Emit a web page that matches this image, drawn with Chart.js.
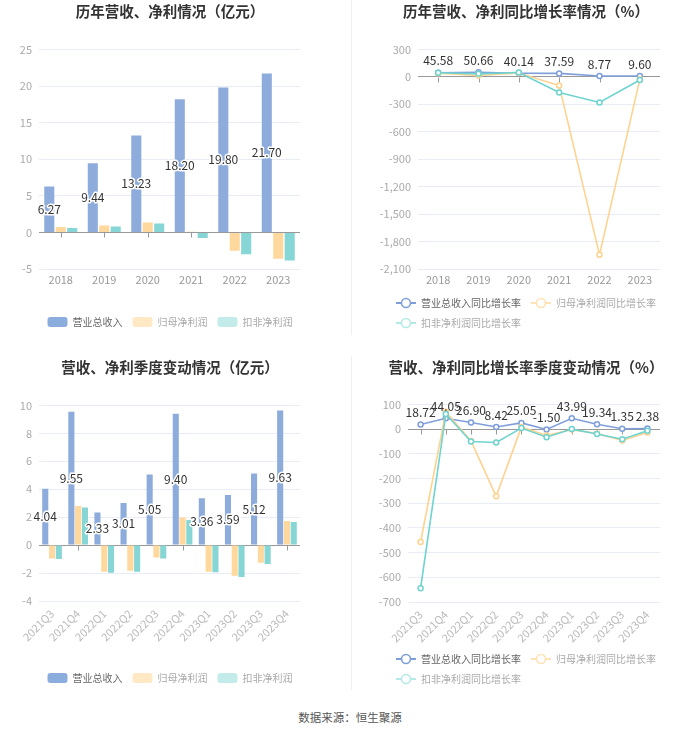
<!DOCTYPE html>
<html>
<head>
<meta charset="utf-8">
<script src="https://cdn.jsdelivr.net/npm/chart.js@4.4.0/dist/chart.umd.min.js"></script>
<style>
  body { margin: 0; background: #fff; }
  #wrap { position: relative; width: 700px; height: 734px; overflow: hidden; }
  .panel { position: absolute; height: 345px; }
  .left { left: 0; width: 350px; }
  .right { left: 352px; width: 348px; }
  .divider { position: absolute; left: 351px; width: 1px; background: #efefef; }
  .src { position: absolute; left: 0; width: 700px; top: 709px; text-align: center;
         font: 11.5px 'Noto Sans CJK SC', sans-serif; color: #555; }
</style>
</head>
<body>
<div id="wrap">
  <div class="panel left" style="top:0"><canvas id="c1"></canvas></div>
  <div class="panel right" style="top:0"><canvas id="c2"></canvas></div>
  <div class="panel left" style="top:356px"><canvas id="c3"></canvas></div>
  <div class="panel right" style="top:356px"><canvas id="c4"></canvas></div>
  <div class="divider" style="top:0;height:335px"></div>
  <div class="divider" style="top:356px;height:334px"></div>
  <div class="src">数据来源：恒生聚源</div>
</div>
<script>
// yearly data (亿元)
const years = ['2018', '2019', '2020', '2021', '2022', '2023'];
const revenue = [6.27, 9.44, 13.23, 18.20, 19.80, 21.70];
const netProfit = [0.75, 0.95, 1.35, 0.1, -2.5, -3.6];
const deductedProfit = [0.6, 0.8, 1.2, -0.75, -3.0, -3.85];

// yearly growth (%)
const revenueYoY = [45.58, 50.66, 40.14, 37.59, 8.77, 9.60];
const netProfitYoY = [40, 15, 42, -95, -1945, -28];
const deductedYoY = [45, 33, 48, -170, -280, -35];

// quarterly data (亿元)
const quarters = ['2021Q3', '2021Q4', '2022Q1', '2022Q2', '2022Q3', '2022Q4', '2023Q1', '2023Q2', '2023Q3', '2023Q4'];
const qRevenue = [4.04, 9.55, 2.33, 3.01, 5.05, 9.40, 3.36, 3.59, 5.12, 9.63];
const qNetProfit = [-0.95, 2.8, -1.9, -1.83, -0.88, 1.98, -1.9, -2.2, -1.26, 1.72];
const qDeducted = [-1.0, 2.7, -1.98, -1.9, -0.95, 1.8, -1.95, -2.28, -1.36, 1.66];

// quarterly growth (%)
const qRevenueYoY = [18.72, 44.05, 26.90, 8.42, 25.05, -1.50, 43.99, 19.34, 1.35, 2.38];
const qNetProfitYoY = [-457, 70, -48, -272, 8, -26, -2, -18, -46, -14];
const qDeductedYoY = [-644, 61, -50, -54, 4, -33, 0, -20, -41, -7];

// y ticks
const yearBarTicks = { min: -5, max: 25, step: 5 };
const yearRateTicks = { min: -2100, max: 300, step: 300 };
const qBarTicks = { min: -4, max: 10, step: 2 };
const qRateTicks = { min: -700, max: 100, step: 100 };

const seriesNames = ['营业总收入', '归母净利润', '扣非净利润'];
const rateNames = ['营业总收入同比增长率', '归母净利润同比增长率', '扣非净利润同比增长率'];

const FONT = "'Noto Sans CJK SC', 'Noto Sans', sans-serif";
Chart.defaults.font.family = FONT;
Chart.defaults.animation = false;
Chart.defaults.color = '#999';

const barColors = ['#8eacdb', '#fed89c', '#86d6d5'];
const swatchColors = ['#8badde', '#ffe8c4', '#c3ebea'];
const lineColors = ['#7f9fdb', '#ffd28f', '#6fd4cf'];
const iconColors = ['#7f9fdb', '#ffe2b5', '#b5e9e6'];
const legendText = ['#666', '#aaa', '#aaa'];

const gridColor = ctx => ctx.tick && ctx.tick.value === 0 ? '#999' : '#e8ecf4';

function lineIcon(color) {
  const c = document.createElement('canvas');
  c.width = 20; c.height = 12;
  const g = c.getContext('2d');
  g.strokeStyle = color;
  g.lineWidth = 2;
  g.beginPath(); g.moveTo(0, 6); g.lineTo(20, 6); g.stroke();
  g.beginPath(); g.arc(10, 6, 4.5, 0, Math.PI * 2);
  g.fillStyle = '#fff'; g.fill();
  g.lineWidth = 1.6; g.stroke();
  return c;
}
const lineIcons = iconColors.map(lineIcon);

// small ticks hanging under the zero line
const zeroTicks = {
  id: 'zeroTicks',
  beforeDatasetsDraw(chart) {
    const x = chart.scales.x, y = chart.scales.y;
    const y0 = Math.round(y.getPixelForValue(0)) + 0.5;
    const ctx = chart.ctx;
    ctx.save();
    ctx.strokeStyle = '#999';
    ctx.lineWidth = 1;
    ctx.beginPath();
    x.ticks.forEach((t, i) => {
      const px = Math.round(x.getPixelForTick(i)) + 0.5;
      ctx.moveTo(px, y0);
      ctx.lineTo(px, y0 + 5);
    });
    ctx.stroke();
    ctx.restore();
  }
};

// value labels for the first series
const valueLabels = {
  id: 'valueLabels',
  afterDatasetsDraw(chart, args, opts) {
    const meta = chart.getDatasetMeta(0);
    const data = chart.data.datasets[0].data;
    const ctx = chart.ctx;
    ctx.save();
    ctx.font = (opts.size || 12) + 'px ' + FONT;
    ctx.textAlign = 'center';
    ctx.textBaseline = 'middle';
    meta.data.forEach((el, i) => {
      const text = data[i].toFixed(2);
      const y = opts.mode === 'bar' ? (el.y + el.base) / 2 : el.y - 12;
      if (opts.mode === 'bar') {
        ctx.lineWidth = 3;
        ctx.lineJoin = 'round';
        ctx.strokeStyle = '#fff';
        ctx.strokeText(text, el.x, y);
      }
      ctx.fillStyle = '#333';
      ctx.fillText(text, el.x, y);
    });
    ctx.restore();
  }
};

// keep wrapped legend rows aligned with the first row
const legendRows = {
  id: 'legendRows',
  beforeDraw(chart) {
    const lg = chart.legend;
    if (lg && lg.lineWidths && lg.lineWidths.length > 1) {
      for (let i = 1; i < lg.lineWidths.length; i++) lg.lineWidths[i] = lg.lineWidths[0];
    }
  }
};

function scalesFor(ticks, yWidth, xHeight, rotated) {
  return {
    x: {
      offset: true,
      grid: { display: false, drawTicks: false },
      border: { display: false },
      ticks: rotated
        ? { color: '#bbb', font: { size: 11 }, padding: 6, minRotation: 45, maxRotation: 45, autoSkip: false }
        : { color: '#999', font: { size: 11 }, padding: 4 },
      afterFit: s => { s.height = xHeight; }
    },
    y: {
      min: ticks.min, max: ticks.max,
      ticks: { stepSize: ticks.step, color: '#aaa', font: { size: 11 }, padding: 7 },
      grid: { color: gridColor, drawTicks: false },
      border: { display: false },
      afterFit: s => { s.width = yWidth; }
    },
    yr: {
      type: 'linear', axis: 'y', position: 'right',
      ticks: { display: false },
      grid: { display: false, drawTicks: false },
      border: { display: false },
      afterFit: s => { s.width = 40; }
    }
  };
}

function titleOpts(text, bottom) {
  return {
    display: true, text: text, color: '#333',
    font: { size: 14.5, weight: 'bold' },
    padding: { top: 3, bottom: bottom }
  };
}

function barChart(id, title, labels, values, ticks, xHeight, rotated, pct) {
  new Chart(document.getElementById(id), {
    type: 'bar',
    data: {
      labels: labels,
      datasets: values.map((v, i) => ({
        label: seriesNames[i],
        data: v,
        backgroundColor: barColors[i],
        categoryPercentage: pct[0],
        barPercentage: pct[1]
      }))
    },
    options: {
      responsive: true,
      maintainAspectRatio: false,
      layout: { padding: { left: 0, right: 10, top: 0, bottom: 8 } },
      scales: scalesFor(ticks, 39, xHeight, rotated),
      plugins: {
        title: titleOpts(title, 29),
        tooltip: { enabled: false },
        legend: {
          position: 'bottom',
          labels: {
            boxWidth: 20, boxHeight: 10, padding: 10,
            font: { size: 10 },
            useBorderRadius: true, borderRadius: 3,
            generateLabels(chart) {
              const items = Chart.defaults.plugins.legend.labels.generateLabels(chart);
              items.forEach(it => {
                it.fillStyle = swatchColors[it.datasetIndex];
                it.strokeStyle = swatchColors[it.datasetIndex];
                it.lineWidth = 0;
                it.fontColor = legendText[it.datasetIndex];
              });
              return items;
            }
          }
        },
        valueLabels: { mode: 'bar', size: 12 }
      }
    },
    plugins: [zeroTicks, valueLabels]
  });
}

function lineChart(id, title, labels, values, ticks, yWidth, xHeight, rotated, titleBottom) {
  const order = [2, 1, 0];
  new Chart(document.getElementById(id), {
    type: 'line',
    data: {
      labels: labels,
      datasets: values.map((v, i) => ({
        label: rateNames[i],
        data: v,
        order: order[i],
        borderColor: lineColors[i],
        backgroundColor: lineColors[i],
        borderWidth: 1.6,
        tension: 0,
        pointRadius: 2.5,
        pointBorderWidth: 1.5,
        pointBackgroundColor: '#fff',
        pointBorderColor: lineColors[i]
      }))
    },
    options: {
      responsive: true,
      maintainAspectRatio: false,
      layout: { padding: { left: 0, right: 0, top: 0, bottom: 7 } },
      scales: scalesFor(ticks, yWidth, xHeight, rotated),
      plugins: {
        title: titleOpts(title, titleBottom),
        tooltip: { enabled: false },
        legend: {
          position: 'bottom',
          labels: {
            usePointStyle: true, pointStyleWidth: 20, boxHeight: 10, padding: 10,
            font: { size: 10 },
            sort: (a, b) => a.datasetIndex - b.datasetIndex,
            generateLabels(chart) {
              const items = Chart.defaults.plugins.legend.labels.generateLabels(chart);
              items.forEach(it => {
                it.pointStyle = lineIcons[it.datasetIndex];
                it.fontColor = legendText[it.datasetIndex];
              });
              return items;
            }
          }
        },
        valueLabels: { mode: 'line', size: 12 }
      }
    },
    plugins: [legendRows, zeroTicks, valueLabels]
  });
}

barChart('c1', '历年营收、净利情况（亿元）', years,
  [revenue, netProfit, deductedProfit], yearBarTicks, 38, false, [0.79, 0.88]);
lineChart('c2', '历年营收、净利同比增长率情况（%）', years,
  [revenueYoY, netProfitYoY, deductedYoY], yearRateTicks, 66, 19, false, 29);
barChart('c3', '营收、净利季度变动情况（亿元）', quarters,
  [qRevenue, qNetProfit, qDeducted], qBarTicks, 62, true, [0.78, 0.9]);
lineChart('c4', '营收、净利同比增长率季度变动情况（%）', quarters,
  [qRevenueYoY, qNetProfitYoY, qDeductedYoY], qRateTicks, 56, 42, true, 28);
</script>
</body>
</html>
